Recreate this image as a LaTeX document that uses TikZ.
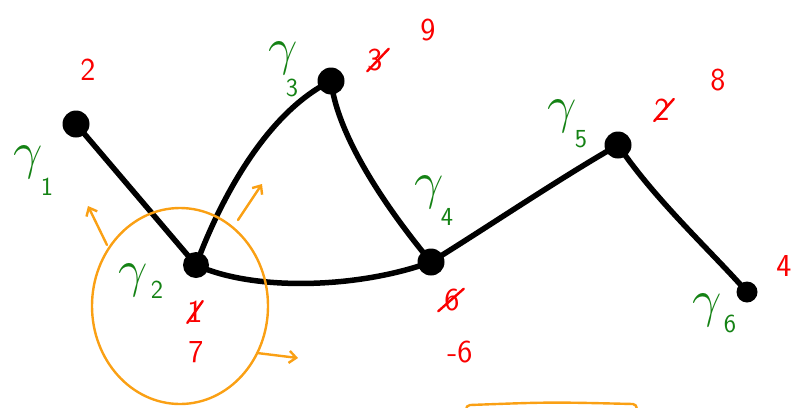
\documentclass[tikz,border=0pt]{standalone}
\usetikzlibrary{arrows.meta,shapes.geometric}
\definecolor{gr}{RGB}{20,130,20}
\definecolor{rd}{RGB}{250,0,0}
\definecolor{og}{RGB}{250,160,20}
\tikzset{
  dot/.style={circle,fill=black,inner sep=0pt,minimum size=#1},
  edge/.style={line width=5.5pt,line cap=round},
  gam/.style={text=gr,font=\Huge,scale=2.1,inner sep=0pt},
  gsub/.style={text=gr,font=\sffamily\fontsize{26}{26}\selectfont,inner sep=0pt},
  num/.style={text=rd,font=\sffamily\fontsize{32}{32}\selectfont,inner sep=0pt},
  strike/.style={draw=rd,line width=2.4pt,line cap=round},
  orng/.style={draw=og,line width=2.4pt,line cap=round},
  oarr/.style={orng,-{Straight Barb[length=7pt,width=12pt]}}
}
\begin{document}
\begin{tikzpicture}[x=1pt,y=-1pt]
\useasboundingbox (0,0) rectangle (797,407);
% vertices
\node[dot=27pt] (v1) at (76,124) {};
\node[dot=26pt] (v2) at (196,265) {};
\node[dot=27pt] (v3) at (331,81) {};
\node[dot=27pt] (v4) at (431,262) {};
\node[dot=27pt] (v5) at (618,145) {};
\node[dot=21pt] (v6) at (747,292) {};
% edges
\draw[edge] (v1.center) -- (v2.center);
\draw[edge] (v2.center) .. controls (222,195) and (268,112) .. (v3.center);
\draw[edge] (v3.center) .. controls (338,140) and (392,215) .. (v4.center);
\draw[edge] (v2.center) .. controls (255,292) and (360,288) .. (v4.center);
\draw[edge] (v4.center) .. controls (480,232) and (560,178) .. (v5.center);
\draw[edge] (v5.center) .. controls (655,200) and (712,252) .. (v6.center);
% green labels
\node[gam] (g1) at (28,162) {$\gamma$};
\node[gsub] (s1) at (47,187) {1};
\node[gam] (g2) at (133,280) {$\gamma$};
\node[gsub] (s2) at (157,290) {2};
\node[gam] (g3) at (283,58) {$\gamma$};
\node[gsub] (s3) at (292,88) {3};
\node[gam] (g4) at (429,192) {$\gamma$};
\node[gsub] (s4) at (447,217) {4};
\node[gam] (g5) at (562,116) {$\gamma$};
\node[gsub] (s5) at (581,139) {5};
\node[gam] (g6) at (707,310) {$\gamma$};
\node[gsub] (s6) at (730,324) {6};
% red numbers
\node[num] (n1) at (88,70) {2};
\node[num] (n2a) at (195,312) {1};
\draw[strike] (n2a.south west) -- (n2a.north east);
\node[num] (n2b) at (196,352) {7};
\node[num] (n3a) at (375,60) {3};
\draw[strike] (n3a.south west) -- ([xshift=6pt]n3a.north east);
\node[num] (n3b) at (428,30) {9};
\node[num] (n4a) at (452,300) {6};
\draw[strike] ([xshift=-6pt]n4a.south west) -- ([xshift=4pt]n4a.north east);
\node[num] (n4b) at (460,352) {-6};
\node[num] (n5a) at (662,110) {2};
\draw[strike] (n5a.south west) -- ([xshift=4pt]n5a.north east);
\node[num] (n5b) at (718,80) {8};
\node[num] (n6) at (784,266) {4};
% orange circle and arrows
\node[orng,ellipse,minimum width=176pt,minimum height=196pt,inner sep=0pt] (circ) at (180,306) {};
\coordinate (a1s) at (107,245); \coordinate (a1e) at (88,206);
\coordinate (a2s) at (238,220); \coordinate (a2e) at (262,184);
\coordinate (a3s) at (257,353); \coordinate (a3e) at (298,358);
\draw[oarr] (a1s) -- (a1e);
\draw[oarr] (a2s) -- (a2e);
\draw[oarr] (a3s) -- (a3e);
\coordinate (b1) at (466,410); \coordinate (b2) at (470,405); \coordinate (b3) at (633,404); \coordinate (b4) at (637,410);
\draw[orng] (b1) .. controls (467,406) .. (b2) .. controls (550,402) .. (b3) .. controls (636,405) .. (b4);
\end{tikzpicture}
\end{document}
